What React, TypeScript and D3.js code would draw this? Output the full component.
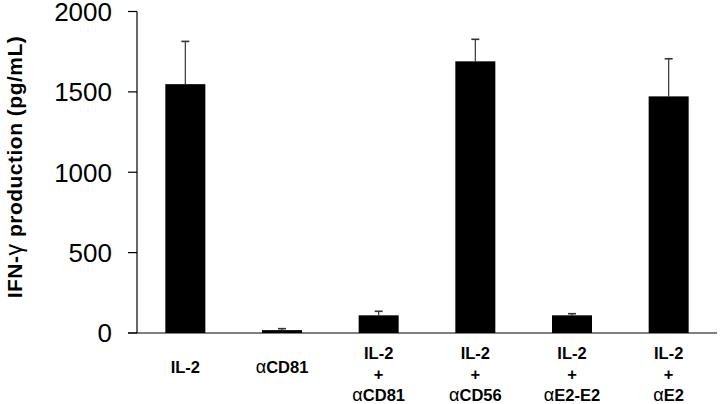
import React from "react";
import * as d3 from "d3";

const categories = ["IL-2", "αCD81", "IL-2+αCD81", "IL-2+αCD56", "IL-2+αE2-E2", "IL-2+αE2"];
const labelLines: string[][] = [
  ["IL-2"],
  ["αCD81"],
  ["IL-2", "+", "αCD81"],
  ["IL-2", "+", "αCD56"],
  ["IL-2", "+", "αE2-E2"],
  ["IL-2", "+", "αE2"],
];
const values = [1548, 18, 110, 1690, 110, 1472];
const errors = [266, 9, 25, 137, 10, 234];
const yTicks = [0, 500, 1000, 1500, 2000];

const W = 720;
const H = 404;
const x0 = 137;
const x1 = 717;
const y0 = 333;
const y1 = 11.5;

function GreekText({ s }: { s: string }) {
  const parts = s.split(/([αγ])/).filter((p) => p.length > 0);
  return (
    <>
      {parts.map((p, i) =>
        p === "α" || p === "γ" ? (
          <tspan key={i} fontWeight="normal" fontSize="1.1em">{p}</tspan>
        ) : (
          <tspan key={i}>{p}</tspan>
        )
      )}
    </>
  );
}

export default function App() {
  const x = d3
    .scaleBand<string>()
    .domain(categories)
    .range([x0, x1])
    .paddingInner(0.586)
    .paddingOuter(0.293);
  const y = d3.scaleLinear().domain([0, 2000]).range([y0, y1]);
  const font = "'Liberation Sans', Arial, Helvetica, sans-serif";

  return (
    <svg
      width={W}
      height={H}
      style={{ position: "absolute", left: 0, top: 0, background: "#fff" }}
      fontFamily={font}
    >
      <rect x={0} y={0} width={W} height={H} fill="#fff" />
      {categories.map((c, i) => {
        const cx = (x(c) ?? 0) + x.bandwidth() / 2;
        return (
          <g key={"e" + c} stroke="#333" strokeWidth={1.2}>
            <line x1={cx} x2={cx} y1={y(values[i])} y2={y(values[i] + errors[i])} />
            <line x1={cx - 4} x2={cx + 4} y1={y(values[i] + errors[i])} y2={y(values[i] + errors[i])} strokeWidth={1.6} />
          </g>
        );
      })}
      {categories.map((c, i) => (
        <rect
          key={"b" + c}
          x={x(c)}
          y={y(values[i])}
          width={x.bandwidth()}
          height={y(0) - y(values[i])}
          fill="#000"
        />
      ))}
      <line x1={x0} x2={x0} y1={y1} y2={y0} stroke="#000" strokeWidth={1.2} />
      <line x1={x0 - 9} x2={x1} y1={y0} y2={y0} stroke="#000" strokeWidth={1.2} />
      {yTicks.map((t) => (
        <g key={"t" + t}>
          <line x1={x0 - 9} x2={x0} y1={y(t)} y2={y(t)} stroke="#000" strokeWidth={1.2} />
          <text
            x={112}
            y={y(t)}
            dy="0.36em"
            textAnchor="end"
            fontSize={26}
            fill="#000"
          >
            {t}
          </text>
        </g>
      ))}
      <text
        transform={`translate(22, 167) rotate(-90)`}
        textAnchor="middle"
        fontSize={21}
        letterSpacing={0.5}
        fontWeight="bold"
        fill="#000"
      >
        <GreekText s="IFN-γ production (pg/mL)" />
      </text>
      {categories.map((c, i) => {
        const cx = (x(c) ?? 0) + x.bandwidth() / 2;
        const lines = labelLines[i];
        const baselines = lines.length === 1 ? [373] : [359, 380, 401];
        return (
          <g key={"l" + c}>
            {lines.map((ln, j) => (
              <text
                key={j}
                x={cx}
                y={baselines[j]}
                textAnchor="middle"
                fontSize={16.5}
                fontWeight="bold"
                fill="#000"
              >
                <GreekText s={ln} />
              </text>
            ))}
          </g>
        );
      })}
    </svg>
  );
}
